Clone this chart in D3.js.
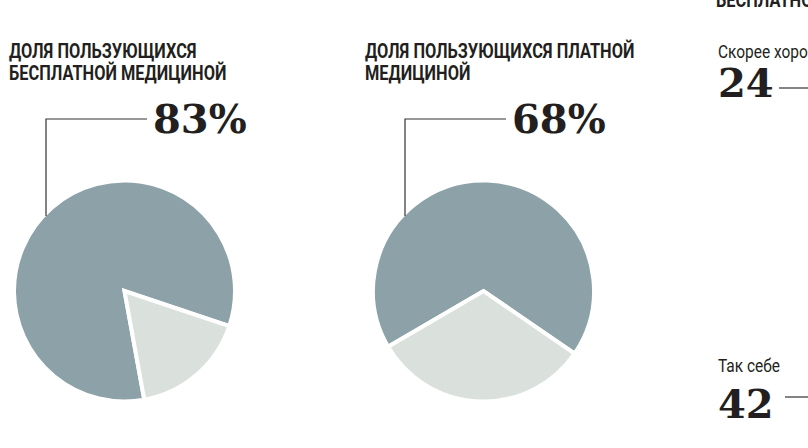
<!DOCTYPE html>
<html lang="ru">
<head>
<meta charset="UTF-8">
<title>Доля пользующихся медициной</title>
<script src="https://cdn.jsdelivr.net/npm/d3@7"></script>
<style>
  body { margin: 0; background: #fff; }
  svg { display: block; }
  .title { font-family: Roboto, "DejaVu Sans Condensed", sans-serif; font-weight: bold; font-size: 19.5px; fill: #231f20; }
  .label { font-family: Roboto, "DejaVu Sans Condensed", sans-serif; font-size: 18px; fill: #231f20; }
  .big { font-family: "DejaVu Serif", serif; font-weight: bold; font-size: 40px; fill: #231f20; }
  .leader { fill: none; stroke: #333; stroke-width: 1.2px; }
</style>
</head>
<body>
<svg id="chart" width="808" height="448"></svg>
<script>
  // data
  const pieTitles = [
    ["ДОЛЯ ПОЛЬЗУЮЩИХСЯ", "БЕСПЛАТНОЙ МЕДИЦИНОЙ"],
    ["ДОЛЯ ПОЛЬЗУЮЩИХСЯ ПЛАТНОЙ", "МЕДИЦИНОЙ"]
  ];
  const shares = [83, 68];
  const sideTitle = "БЕСПЛАТНОЙ МЕДИЦИНОЙ";
  const ratingLabels = ["Скорее хорошо", "Так себе"];
  const ratingValues = [24, 42];

  // layout
  const colors = { main: "#8ca1a8", rest: "#dae0dc" };
  const condense = 0.84;      // the original uses a condensed sans
  const labelCondense = 0.86;
  const pies = [
    { cx: 124.5, titleX: 9, start: 108.5 },
    { cx: 483.5, titleX: 365, start: 124.5 }
  ];
  const cy = 291, radius = 110.5, leaderDx = -78.5, leaderY = 119, leaderLen = 101;

  const svg = d3.select("#chart");
  const arc = d3.arc().innerRadius(0).outerRadius(radius);

  function condensedText(parent, cls, x, y, text, k) {
    return parent.append("text")
      .attr("class", cls)
      .attr("transform", `translate(${x},${y}) scale(${k},1)`)
      .text(text);
  }

  pies.forEach((p, i) => {
    const g = svg.append("g");

    pieTitles[i].forEach((line, j) => condensedText(g, "title", p.titleX, 58 + j * 22, line, condense));

    const pie = d3.pie().sort(null)
      .startAngle(p.start * Math.PI / 180)
      .endAngle(p.start * Math.PI / 180 + 2 * Math.PI);
    const slices = pie([100 - shares[i], shares[i]]);

    // main slice first, rest slice on top so its white stroke cuts the tip
    g.selectAll("path")
      .data([slices[1], slices[0]])
      .join("path")
      .attr("transform", `translate(${p.cx},${cy})`)
      .attr("d", arc)
      .attr("fill", d => d.index === 1 ? colors.main : colors.rest)
      .attr("stroke", "#fff")
      .attr("stroke-width", 4)
      .attr("stroke-linejoin", "miter");

    const lx = p.cx + leaderDx;
    const ly = cy - Math.sqrt((radius - 2) ** 2 - leaderDx ** 2);
    g.append("path")
      .attr("class", "leader")
      .attr("d", `M${lx},${ly}V${leaderY}H${lx + leaderLen}`);

    g.append("text")
      .attr("class", "big")
      .attr("x", lx + leaderLen + 6)
      .attr("y", 133)
      .text(shares[i] + "%");
  });

  // partially visible third block on the right (cut by the frame)
  const side = svg.append("g");
  condensedText(side, "title", 716, 7, sideTitle, condense);

  const rows = [{ labelY: 58, numY: 97, lineY: 88, lineX: 779 }, { labelY: 372, numY: 418, lineY: 397, lineX: 785 }];
  rows.forEach((r, i) => {
    condensedText(side, "label", 718, r.labelY, ratingLabels[i], labelCondense);
    side.append("text").attr("class", "big").attr("x", 718).attr("y", r.numY).text(ratingValues[i]);
    side.append("path").attr("class", "leader").attr("d", `M${r.lineX},${r.lineY}H808`);
  });
</script>
</body>
</html>
